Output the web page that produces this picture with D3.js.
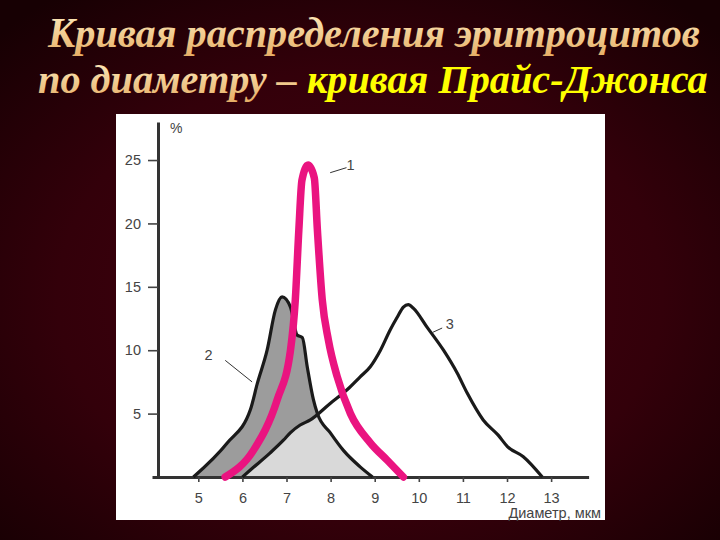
<!DOCTYPE html>
<html>
<head>
<meta charset="utf-8">
<script src="https://cdn.jsdelivr.net/npm/d3@7"></script>
<style>
  html, body { margin: 0; padding: 0; background: #2a0008; }
  svg { display: block; }
  .tick text { font-family: 'Liberation Sans', sans-serif; font-size: 14.5px; fill: #444; }
</style>
</head>
<body>
<svg id="chart" width="720" height="540"></svg>
<script>
// tick values
let xTicks = [5, 6, 7, 8, 9, 10, 11, 12, 13];
let yTicks = [5, 10, 15, 20, 25];

// curve 1 - normal (magenta), [diameter, percent]
let curve1 = [
	[5.61, 0], [6.25, 2.1], [6.79, 6.1], [7.09, 10], [7.2, 14], [7.28, 19.5],
	[7.35, 23.4], [7.49, 24.6], [7.63, 23.6], [7.7, 19.5], [7.81, 14],
	[7.95, 10.8], [8.15, 7.9], [8.45, 5.0], [8.9, 2.7], [9.29, 1.3], [9.65, 0]
];
// curve 2 - microcytosis
let curve2 = [
	[4.89, 0], [5.66, 2.7], [6.18, 5.3], [6.34, 7.4], [6.56, 10], [6.75, 13.2],
	[6.9, 14.2], [7.09, 13.4], [7.24, 11.2], [7.36, 11.0], [7.47, 8.7],
	[7.61, 6.1], [7.7, 5.0], [7.99, 3.5], [8.29, 2.1], [8.67, 0.8], [8.95, 0]
];
// curve 3 - macrocytosis
let curve3 = [
	[6.0, 0], [6.18, 0.55], [6.63, 1.9], [6.93, 2.9], [7.09, 3.5], [7.31, 4.1],
	[7.54, 4.5], [7.99, 5.8], [8.38, 6.9], [8.67, 7.9], [8.9, 8.7], [9.13, 10],
	[9.35, 11.6], [9.51, 12.6], [9.65, 13.4], [9.76, 13.6], [9.88, 13.3],
	[10.19, 11.8], [10.56, 10], [10.87, 8.2], [11.1, 6.6], [11.46, 4.5],
	[11.8, 3.3], [12.01, 2.4], [12.37, 1.6], [12.8, 0]
];
let curveNames = ['1', '2', '3'];

let svg = d3.select('#chart');

// background
let defs = svg.append('defs');
let bg = defs.append('radialGradient').attr('id', 'bg')
	.attr('cx', '50%').attr('cy', '55%').attr('r', '70%');
bg.append('stop').attr('offset', '0%').attr('stop-color', '#46000f');
bg.append('stop').attr('offset', '60%').attr('stop-color', '#33000a');
bg.append('stop').attr('offset', '100%').attr('stop-color', '#170003');
svg.append('rect').attr('width', 720).attr('height', 540).attr('fill', 'url(#bg)');

let peach = defs.append('linearGradient').attr('id', 'peach')
	.attr('x1', 0).attr('y1', 0).attr('x2', 0).attr('y2', 1);
peach.append('stop').attr('offset', '0%').attr('stop-color', '#fff0c4');
peach.append('stop').attr('offset', '100%').attr('stop-color', '#e6ae66');

// title, squeezed to the width seen in the slide
function titleLine(y, size, x0, x1, parts) {
	let t = svg.append('text')
		.attr('x', x0).attr('y', y)
		.style('font-family', "'Liberation Serif', 'Times New Roman', serif")
		.style('font-weight', 'bold').style('font-style', 'italic')
		.style('font-size', size + 'px');
	parts.forEach(function(p) {
		t.append('tspan').attr('fill', p.fill).text(p.text);
	});
	let w = t.node().getComputedTextLength();
	let sx = (x1 - x0) / w;
	t.attr('x', 0).attr('transform', 'translate(' + x0 + ',0) scale(' + sx + ',1)');
}
titleLine(47, 43, 48, 700, [{ text: 'Кривая распределения эритроцитов', fill: 'url(#peach)' }]);
titleLine(93, 40, 38, 708, [
	{ text: 'по диаметру – ', fill: 'url(#peach)' },
	{ text: 'кривая Прайс-Джонса', fill: '#ffff00' }
]);

// white panel
svg.append('rect').attr('x', 116).attr('y', 114).attr('width', 489).attr('height', 406).attr('fill', '#ffffff');

let x = d3.scaleLinear().domain([3.95, 13.85]).range([152, 588.6]);
let y = d3.scaleLinear().domain([0, 28]).range([477, 122]);

let line = d3.line().x(function(d) { return x(d[0]); }).y(function(d) { return y(d[1]); })
	.curve(d3.curveMonotoneX);
let area = d3.area().x(function(d) { return x(d[0]); }).y0(y(0)).y1(function(d) { return y(d[1]); })
	.curve(d3.curveMonotoneX);

// shaded areas: dark under curve 2, light where curves 2 and 3 overlap
defs.append('clipPath').attr('id', 'under2').append('path').attr('d', area(curve2));
svg.append('path').attr('d', area(curve2)).attr('fill', '#9c9c9c');
svg.append('path').attr('d', area(curve3)).attr('fill', '#d9d9d9').attr('clip-path', 'url(#under2)');

// axes
let xAxis = svg.append('g').attr('transform', 'translate(0,' + y(0) + ')')
	.call(d3.axisBottom(x).tickValues(xTicks).tickSizeInner(5).tickSizeOuter(0).tickPadding(11));
let yAxis = svg.append('g').attr('transform', 'translate(158,0)')
	.call(d3.axisLeft(y).tickValues(yTicks).tickSizeInner(10).tickSizeOuter(0).tickPadding(7));
[xAxis, yAxis].forEach(function(a) {
	a.select('.domain').attr('stroke', '#333').attr('stroke-width', 3);
	a.selectAll('.tick line').attr('stroke', '#444').attr('stroke-width', 1.6);
});

svg.append('text').attr('x', 170).attr('y', 133).text('%')
	.style('font-family', "'Liberation Sans', sans-serif").style('font-size', '14px').attr('fill', '#444');
svg.append('text').attr('x', 601).attr('y', 518).attr('text-anchor', 'end').text('Диаметр, мкм')
	.style('font-family', "'Liberation Sans', sans-serif").style('font-size', '14.5px').attr('fill', '#444');

// curves
svg.append('path').attr('d', line(curve2)).attr('fill', 'none').attr('stroke', '#1a1a1a').attr('stroke-width', 3.2);
svg.append('path').attr('d', line(curve3)).attr('fill', 'none').attr('stroke', '#1a1a1a').attr('stroke-width', 3.2);
svg.append('path').attr('d', line(curve1)).attr('fill', 'none').attr('stroke', '#ea1480')
	.attr('stroke-width', 7.5).attr('stroke-linejoin', 'round').attr('stroke-linecap', 'round');

// curve labels with leader lines
let labels = [
	{ name: curveNames[0], at: [8.45, 24.6], from: [7.99, 24.0], to: [8.36, 24.4] },
	{ name: curveNames[1], at: [5.23, 9.6], from: [5.61, 9.2], to: [6.22, 7.5] },
	{ name: curveNames[2], at: [10.7, 12.1], from: [10.31, 11.4], to: [10.53, 11.75] }
];
labels.forEach(function(l) {
	svg.append('line')
		.attr('x1', x(l.from[0])).attr('y1', y(l.from[1]))
		.attr('x2', x(l.to[0])).attr('y2', y(l.to[1]))
		.attr('stroke', '#333').attr('stroke-width', 1);
	svg.append('text').attr('x', x(l.at[0])).attr('y', y(l.at[1]) + 5)
		.attr('text-anchor', 'middle').text(l.name)
		.style('font-family', "'Liberation Sans', sans-serif").style('font-size', '14.5px').attr('fill', '#444');
});
</script>
</body>
</html>
